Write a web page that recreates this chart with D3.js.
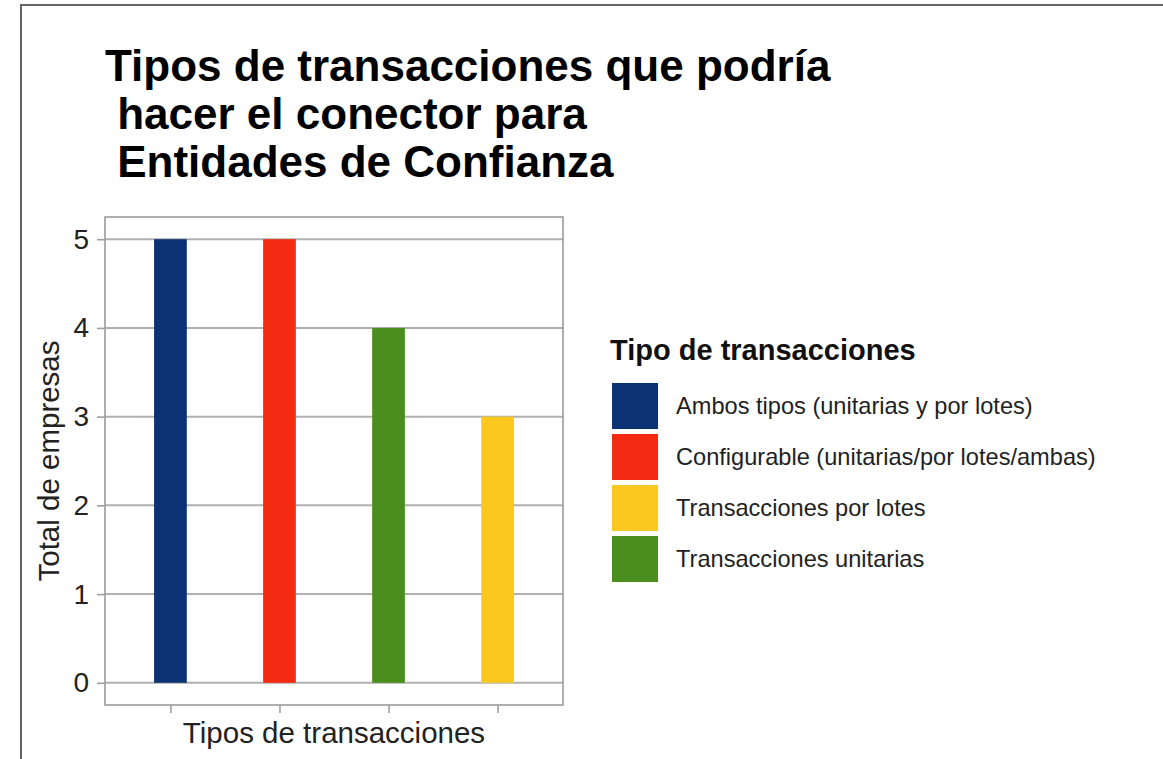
<!DOCTYPE html>
<html>
<head>
<meta charset="utf-8">
<script src="https://cdn.jsdelivr.net/npm/d3@7"></script>
<style>
  body { margin: 0; background: #fff; }
  text { font-family: "Liberation Sans", Arial, sans-serif; }
</style>
</head>
<body>
<div id="chart"></div>
<script>
var w = 1163;
var h = 759;

// categories in the order they stand on the x axis
var categories = [
    "Ambos tipos (unitarias y por lotes)",
    "Configurable (unitarias/por lotes/ambas)",
    "Transacciones unitarias",
    "Transacciones por lotes"
];
var values = [5, 5, 4, 3];

// legend order and fill colours
var legendOrder = [
    "Ambos tipos (unitarias y por lotes)",
    "Configurable (unitarias/por lotes/ambas)",
    "Transacciones por lotes",
    "Transacciones unitarias"
];
var legendColors = ["#0b3272", "#f52a12", "#fbc820", "#4a8e1e"];

var yTicks = [0, 1, 2, 3, 4, 5];
var titleLines = [
    "Tipos de transacciones que podría",
    " hacer el conector para",
    " Entidades de Confianza"
];

var dataset = categories.map(function(c, i) { return { cat: c, value: values[i] }; });

// plot panel
var panel = { left: 105, right: 563, top: 217, bottom: 705 };

var svg = d3.select("#chart")
            .append("svg")
            .attr("width", w)
            .attr("height", h);

svg.append("rect")
    .attr("width", w).attr("height", h)
    .attr("fill", "#fff");

// outer frame of the picture
svg.append("rect")
    .attr("x", 21).attr("y", 5)
    .attr("width", w + 20).attr("height", h + 20)
    .attr("fill", "none")
    .attr("stroke", "#666")
    .attr("stroke-width", 2);

// Title
svg.append("text")
    .attr("x", 105)
    .attr("y", 81)
    .style("font-size", "44px")
    .style("font-weight", "bold")
    .style("fill", "#000")
    .selectAll("tspan")
    .data(titleLines)
    .enter()
    .append("tspan")
    .attr("x", 105)
    .attr("dy", function(d, i) { return i === 0 ? 0 : 48; })
    .style("white-space", "pre")
    .text(function(d) { return d; });

// Scales (discrete x with 0.6 expansion like ggplot, y with 5% expansion)
var xScale = d3.scaleLinear()
                .domain([0.4, categories.length + 0.6])
                .range([panel.left, panel.right]);

var yScale = d3.scaleLinear()
                .domain([-0.25, 5.25])
                .range([panel.bottom, panel.top]);

var barW = xScale(1.3) - xScale(1);

// gridlines
svg.append("g")
    .selectAll("line")
    .data(yTicks)
    .enter()
    .append("line")
    .attr("x1", panel.left).attr("x2", panel.right)
    .attr("y1", function(d) { return yScale(d); })
    .attr("y2", function(d) { return yScale(d); })
    .attr("stroke", "#b0b0b0")
    .attr("stroke-width", 2);

// bars
svg.append("g")
    .selectAll("rect")
    .data(dataset)
    .enter()
    .append("rect")
    .attr("x", function(d, i) { return xScale(i + 1) - barW / 2; })
    .attr("y", function(d) { return yScale(d.value); })
    .attr("width", barW)
    .attr("height", function(d) { return yScale(0) - yScale(d.value); })
    .attr("fill", function(d) { return legendColors[legendOrder.indexOf(d.cat)]; });

// panel border
svg.append("rect")
    .attr("x", panel.left).attr("y", panel.top)
    .attr("width", panel.right - panel.left)
    .attr("height", panel.bottom - panel.top)
    .attr("fill", "none")
    .attr("stroke", "#9a9a9a")
    .attr("stroke-width", 1.6);

// y axis
var yAxis = d3.axisLeft(yScale)
    .tickValues(yTicks)
    .tickSize(8)
    .tickPadding(8)
    .tickFormat(d3.format("d"));

var gy = svg.append("g")
    .attr("transform", "translate(" + panel.left + ",0)")
    .call(yAxis);
gy.select(".domain").remove();
gy.selectAll(".tick line").attr("stroke", "#a0a0a0").attr("stroke-width", 1.6);
gy.selectAll(".tick text")
    .style("font-size", "28px")
    .style("font-family", "'Liberation Sans', Arial, sans-serif")
    .attr("fill", "#222");

// x axis (ticks only)
var xAxis = d3.axisBottom(xScale)
    .tickValues(d3.range(1, categories.length + 1))
    .tickSize(8)
    .tickFormat("");

var gx = svg.append("g")
    .attr("transform", "translate(0," + panel.bottom + ")")
    .call(xAxis);
gx.select(".domain").remove();
gx.selectAll(".tick line").attr("stroke", "#a0a0a0").attr("stroke-width", 1.6);

// axis titles
svg.append("text")
    .attr("x", (panel.left + panel.right) / 2)
    .attr("y", 743)
    .attr("text-anchor", "middle")
    .style("font-size", "29.5px")
    .style("fill", "#222")
    .text("Tipos de transacciones");

svg.append("text")
    .attr("transform", "translate(59," + (panel.top + panel.bottom) / 2 + ") rotate(-90)")
    .attr("text-anchor", "middle")
    .style("font-size", "29.5px")
    .style("fill", "#222")
    .text("Total de empresas");

// legend
var legend = svg.append("g").attr("transform", "translate(612,0)");

legend.append("text")
    .attr("x", -2)
    .attr("y", 360)
    .style("font-size", "29px")
    .style("font-weight", "bold")
    .style("fill", "#111")
    .text("Tipo de transacciones");

var items = legend.selectAll("g.item")
    .data(legendOrder)
    .enter()
    .append("g")
    .attr("class", "item")
    .attr("transform", function(d, i) { return "translate(0," + (383 + i * 51) + ")"; });

items.append("rect")
    .attr("width", 46)
    .attr("height", 46)
    .attr("fill", function(d, i) { return legendColors[i]; });

items.append("text")
    .attr("x", 64)
    .attr("y", 31)
    .style("font-size", "23.6px")
    .style("fill", "#222")
    .text(function(d) { return d; });
</script>
</body>
</html>
